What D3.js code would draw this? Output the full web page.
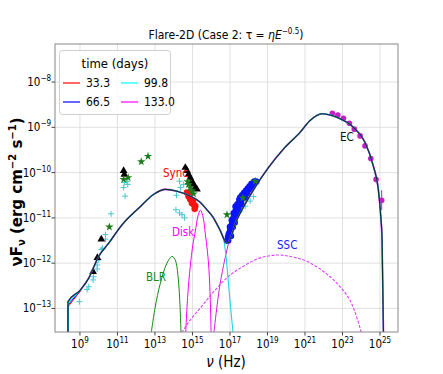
<!DOCTYPE html>
<html><head><meta charset="utf-8">
<script src="https://cdn.jsdelivr.net/npm/d3@7"></script>
<style>
body{margin:0;background:#fff}
text{font-family:"DejaVu Sans",sans-serif;font-stretch:condensed}
</style>
</head><body><div id="chart"></div><script>
// values are log10(nu [Hz]) and log10(nuFnu [erg cm^-2 s^-1])
var totalModel = [[8.36,-13.7],[8.365,-12.85],[9.03,-12.59],[9.47,-12.33],[10.0,-11.85],[10.53,-11.56],[11.25,-11.15],
  [12.22,-10.75],[12.93,-10.48],[13.55,-10.37],[14.18,-10.41],[14.88,-10.52],[15.4,-10.65],[15.77,-10.82],
  [16.09,-10.98],[16.48,-11.28],[16.84,-11.56],[17.37,-11.04],[18.33,-10.33],[19.85,-9.48],[20.74,-9.11],
  [21.27,-8.85],[21.9,-8.7],[22.7,-8.78],[23.58,-9.0],[24.2,-9.33],[24.64,-9.85],[24.91,-10.37],[25.04,-10.96],
  [25.11,-11.48],[25.19,-13.7]]
var lowEnd33 = [[8.37,-13.7],[8.37,-12.96],[9.03,-12.61]]
var lowEnd66 = [[8.37,-13.7],[8.37,-12.92],[9.03,-12.6]]
var lowEnd99 = [[8.37,-13.7],[8.37,-12.88],[9.03,-12.59]]
var syncTail = [[16.3,-11.12],[16.48,-11.28],[16.66,-11.48],[16.8,-11.9],[16.95,-12.6],[17.2,-13.7]]
var ecRise = [[16.1,-13.7],[16.48,-12.44],[16.97,-11.48],[17.3,-11.0],[17.6,-10.8],[17.8,-10.72]]
var diskComp = [[14.62,-13.7],[14.75,-12.7],[14.88,-12.08],[15.02,-11.6],[15.15,-11.3],[15.3,-10.95],[15.42,-10.83],
  [15.55,-10.95],[15.68,-11.33],[15.8,-11.75],[15.88,-12.15],[15.95,-12.8],[16.0,-13.7]]
var blrComp = [[12.75,-13.7],[13.0,-13.0],[13.29,-12.44],[13.64,-12.0],[13.91,-11.85],[14.1,-11.95],[14.22,-12.25],[14.32,-12.8],[14.4,-13.7]]
var sscComp = [[14.18,-13.7],[14.8,-13.3],[15.5,-12.95],[16.2,-12.6],[16.9,-12.3],[17.55,-12.11],[18.5,-11.9],[19.5,-11.82],
  [20.3,-11.86],[21.1,-11.96],[22.34,-12.3],[23.4,-12.82],[24.11,-13.7]]

var cyanCross = [[8.97,-12.85],[9.38,-12.58],[9.47,-12.52],[9.7,-12.37],[9.73,-12.3],[9.92,-12.13],[9.92,-12.04],[10.0,-11.93],
  [10.14,-11.7],[10.21,-11.67],[10.36,-11.47],[10.36,-11.37],[10.66,-10.91],[11.33,-10.33],[11.37,-10.22],[11.41,-10.52],
  [11.51,-10.19],[11.55,-10.26],[14.31,-10.19],[14.53,-10.26],[14.36,-10.33],[14.15,-10.5],[14.12,-10.82],[14.31,-10.89],
  [14.44,-10.93],[14.58,-11.0],[17.01,-11.17],[17.55,-10.85],[17.81,-10.74],[18.08,-10.63],[18.25,-10.53],[16.9,-11.35]]
var blackTri = [[9.7,-12.19],[9.93,-11.88],[10.14,-11.47],[11.33,-9.96],[11.37,-10.04],[14.62,-9.89],[14.71,-9.96],
  [14.79,-10.04],[14.88,-10.11],[14.97,-10.19],[15.06,-10.26],[15.15,-10.33],[15.24,-10.37]]
var greenStar = [[10.57,-11.2],[11.33,-10.15],[11.57,-10.11],[12.27,-9.76],[12.63,-9.64],[14.75,-10.2],[14.79,-10.26],
  [14.88,-10.33],[14.97,-10.4],[15.06,-10.47],[16.84,-10.93],[17.69,-10.56],[18.35,-10.19]]
var redDot = [[14.71,-10.44],[14.79,-10.52],[14.84,-10.48],[14.88,-10.59],[14.97,-10.67],[15.02,-10.62],[15.06,-10.7],
  [15.15,-10.74],[15.12,-10.8]]
var blueDot = [[16.85,-11.5],[16.9,-11.42],[16.95,-11.35],[17.0,-11.3],[17.0,-11.2],[17.05,-11.25],[17.1,-11.15],[17.1,-11.05],
  [17.15,-11.1],[17.2,-11.0],[17.2,-10.9],[17.25,-10.95],[17.3,-10.85],[17.3,-10.75],[17.35,-10.8],[17.4,-10.7],
  [17.45,-10.75],[17.5,-10.6],[17.5,-10.7],[17.55,-10.55],[17.6,-10.62],[17.65,-10.5],[17.7,-10.55],[17.75,-10.45],
  [17.8,-10.5],[17.85,-10.4],[17.9,-10.45],[17.95,-10.35],[18.0,-10.38],[18.05,-10.3],[18.1,-10.32],[18.15,-10.25],
  [18.2,-10.3],[18.3,-10.2],[18.4,-10.2],[17.0,-11.35],[17.15,-11.2],[17.35,-10.9],[17.6,-10.7],[17.8,-10.55],
  [16.9,-11.5],[17.05,-11.4],[17.25,-11.1],[17.45,-10.85]]
var magentaDot = [[22.46,-8.69],[22.75,-8.73],[23.05,-8.8],[23.37,-8.91],[23.63,-9.04],[23.94,-9.19],[24.2,-9.41],
  [24.51,-9.69],[24.79,-10.15],[25.09,-10.61]]

var xTickExp = [9,11,13,15,17,19,21,23,25]
var yTickExp = [-13,-12,-11,-10,-9,-8]
var legendTimes = ['33.3','66.5','99.8','133.0']
var legendColors = ['#ff0000','#0000ff','#00ffff','#ff00ff']

var width = 443, height = 374
var svg = d3.select('#chart').append('svg').attr('width', width).attr('height', height)

var x = d3.scaleLog().domain([Math.pow(10,7.67), Math.pow(10,25.96)]).range([55, 398])
var y = d3.scaleLog().domain([Math.pow(10,-13.52), Math.pow(10,-7.16)]).range([332, 44])
var px = function(d){ return x(Math.pow(10,d[0])) }
var py = function(d){ return y(Math.pow(10,d[1])) }

svg.append('defs').append('clipPath').attr('id','clip')
  .append('rect').attr('x',55).attr('y',44).attr('width',343).attr('height',288)

// grid
var grid = svg.append('g').attr('stroke','#d9d9d9').attr('stroke-width',0.8)
xTickExp.forEach(function(e){
  grid.append('line').attr('x1',x(Math.pow(10,e))).attr('x2',x(Math.pow(10,e))).attr('y1',44).attr('y2',332)
})
yTickExp.forEach(function(e){
  grid.append('line').attr('y1',y(Math.pow(10,e))).attr('y2',y(Math.pow(10,e))).attr('x1',55).attr('x2',398)
})

var plot = svg.append('g').attr('clip-path','url(#clip)')
var line = d3.line().x(px).y(py).curve(d3.curveCatmullRom.alpha(0.5))
var mline = d3.line().x(px).y(py).curve(d3.curveMonotoneX)

// components
plot.append('path').datum(blrComp).attr('d',line).attr('fill','none').attr('stroke','#138a13').attr('stroke-width',1)
plot.append('path').datum(diskComp).attr('d',line).attr('fill','none').attr('stroke','#ff00ff').attr('stroke-width',1)
plot.append('path').datum(sscComp).attr('d',line).attr('fill','none').attr('stroke','#e040fb').attr('stroke-width',1.1)
  .attr('stroke-dasharray','3,1.5')
plot.append('path').datum(ecRise).attr('d',line).attr('fill','none').attr('stroke','#d020d0').attr('stroke-width',1)
plot.append('path').datum(syncTail).attr('d',line).attr('fill','none').attr('stroke','#20d8e0').attr('stroke-width',1.1)

// data points
var plus = 'M-3,0H3M0,-3V3'
plot.selectAll('.cx').data(cyanCross).enter().append('path')
  .attr('d',plus).attr('transform',function(d){ return 'translate('+px(d)+','+py(d)+')' })
  .attr('stroke','#45c8d0').attr('stroke-width',1)
plot.selectAll('.bt').data(blackTri).enter().append('path')
  .attr('d',d3.symbol(d3.symbolTriangle,26)).attr('transform',function(d){ return 'translate('+px(d)+','+py(d)+')' })
  .attr('fill','#000')
plot.selectAll('.rd').data(redDot).enter().append('circle')
  .attr('cx',px).attr('cy',py).attr('r',3.3).attr('fill','#ff1010')
plot.selectAll('.bd').data(blueDot).enter().append('circle')
  .attr('cx',px).attr('cy',py).attr('r',3.3).attr('fill','#0a14ff')
plot.selectAll('.gs').data(greenStar).enter().append('path')
  .attr('d',d3.symbol(d3.symbolStar,22)).attr('transform',function(d){ return 'translate('+px(d)+','+py(d)+')' })
  .attr('fill','#1b7a1b')
plot.selectAll('.md').data(magentaDot).enter().append('circle')
  .attr('cx',px).attr('cy',py).attr('r',2.8).attr('fill','#c51ec5')
plot.append('line').attr('x1',px(magentaDot[9])).attr('x2',px(magentaDot[9]))
  .attr('y1',py(magentaDot[9])-10).attr('y2',py(magentaDot[9])+10).attr('stroke','#c51ec5').attr('stroke-width',1)

// total model for the four epochs, then black on top
plot.append('path').datum(totalModel).attr('d',mline).attr('fill','none').attr('stroke','#ff00ff').attr('stroke-width',1.6)
plot.append('path').datum(totalModel).attr('d',mline).attr('fill','none').attr('stroke','#00cccc').attr('stroke-width',1.3)
;[lowEnd33, lowEnd66, lowEnd99].forEach(function(s,i){
  plot.append('path').datum(s).attr('d',d3.line().x(px).y(py)).attr('fill','none')
    .attr('stroke',legendColors[i]).attr('stroke-width',1)
})
plot.append('path').datum(totalModel).attr('d',mline).attr('fill','none').attr('stroke','#111').attr('stroke-width',1.1)
  .attr('stroke-opacity',0.85)

// labels on the plot
var lab = function(t,xx,yy,c){ svg.append('text').attr('x',xx).attr('y',yy).attr('fill',c).attr('font-size',11.5).text(t) }
lab('Sync',163,177,'#ff0000')
lab('Disk',172,236,'#ff00ff')
lab('BLR',146,281,'#138a13')
lab('SSC',277,249,'#1a1aff')
lab('EC',340,141,'#111')

// frame
svg.append('rect').attr('x',55).attr('y',44).attr('width',343).attr('height',288)
  .attr('fill','none').attr('stroke','#888').attr('stroke-width',1)

// ticks
var tk = svg.append('g')
xTickExp.forEach(function(e){
  var xx = x(Math.pow(10,e))
  tk.append('line').attr('x1',xx).attr('x2',xx).attr('y1',332).attr('y2',335.5).attr('stroke','#444')
  var t = tk.append('text').attr('x',xx).attr('y',348).attr('text-anchor','middle').attr('font-size',11.5)
  t.append('tspan').text('10')
  t.append('tspan').attr('dy',-5).attr('font-size',8).text(e)
})
yTickExp.forEach(function(e){
  var yy = y(Math.pow(10,e))
  tk.append('line').attr('x1',51.5).attr('x2',55).attr('y1',yy).attr('y2',yy).attr('stroke','#444')
  var t = tk.append('text').attr('x',51).attr('y',yy+4).attr('text-anchor','end').attr('font-size',11.5)
  t.append('tspan').text('10')
  t.append('tspan').attr('dy',-5).attr('font-size',8).text('\u2212'+(-e))
})

// title
var ti = svg.append('text').attr('x',226).attr('y',39).attr('text-anchor','middle').attr('font-size',12)
ti.append('tspan').text('Flare-2D (Case 2: \u03c4 = ')
ti.append('tspan').attr('font-style','italic').text('\u03b7E')
ti.append('tspan').attr('dy',-5).attr('font-size',8).text('\u22120.5')
ti.append('tspan').attr('dy',5).text(')')

// axis labels
var xl = svg.append('text').attr('x',226).attr('y',367).attr('text-anchor','middle').attr('font-size',15)
xl.append('tspan').attr('font-style','italic').text('\u03bd')
xl.append('tspan').text(' (Hz)')
var yl = svg.append('text').attr('transform','translate(22,192) rotate(-90)').attr('text-anchor','middle')
  .attr('font-size',15).attr('font-weight','bold').style('font-stretch','normal')
yl.append('tspan').text('\u03bdF')
yl.append('tspan').attr('dy',3).attr('font-size',10).text('\u03bd')
yl.append('tspan').attr('dy',-3).text(' (erg cm')
yl.append('tspan').attr('dy',-6).attr('font-size',10).text('\u22122')
yl.append('tspan').attr('dy',6).text(' s')
yl.append('tspan').attr('dy',-6).attr('font-size',10).text('\u22121')
yl.append('tspan').attr('dy',6).text(')')

// legend
var lg = svg.append('g')
lg.append('rect').attr('x',59.5).attr('y',50.5).attr('width',111).attr('height',64).attr('rx',3)
  .attr('fill','#fff').attr('fill-opacity',0.85).attr('stroke','#d0d0d0')
lg.append('text').attr('x',115).attr('y',68).attr('text-anchor','middle').attr('font-size',13).text('time (days)')
legendTimes.forEach(function(t,i){
  var cx = 63 + Math.floor(i/2)*58, cy = 83 + (i%2)*19
  lg.append('line').attr('x1',cx).attr('x2',cx+17).attr('y1',cy).attr('y2',cy).attr('stroke',legendColors[i]).attr('stroke-width',1.2)
  lg.append('text').attr('x',cx+23).attr('y',cy+4).attr('font-size',12).text(t)
})
</script></body></html>
